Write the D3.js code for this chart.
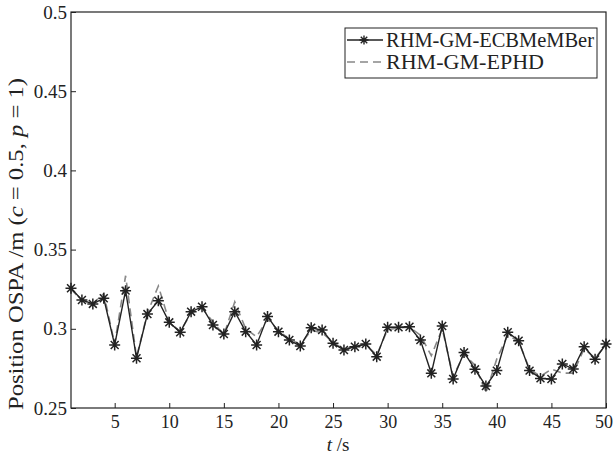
<!DOCTYPE html>
<html><head><meta charset="utf-8">
<script src="https://cdn.jsdelivr.net/npm/d3@7"></script>
<style>
body{margin:0;background:#fff;}
svg{display:block;font-family:"Liberation Serif","Times New Roman",serif;}
</style></head>
<body><svg id="c" width="614" height="455"></svg>
<script>
const steps = d3.range(1, 51);
const ecbmember = [0.3256,0.3182,0.3157,0.3193,0.2898,0.3241,0.2814,0.3093,0.3177,0.3041,
  0.2978,0.3108,0.3139,0.3024,0.2967,0.3108,0.2982,0.2898,0.3077,0.2982,
  0.2929,0.2891,0.3007,0.2992,0.2908,0.2866,0.2887,0.2904,0.2824,0.3009,
  0.3009,0.3013,0.2929,0.2719,0.3018,0.2683,0.2851,0.2744,0.2639,0.2736,
  0.2978,0.2925,0.2736,0.2687,0.2683,0.2778,0.2746,0.2887,0.2807,0.2904];
const ephd = [0.3250,0.3178,0.3160,0.3222,0.2905,0.3335,0.2820,0.3100,0.3270,0.3045,
  0.2982,0.3100,0.3130,0.3045,0.2960,0.3170,0.3000,0.2950,0.3060,0.2990,
  0.2935,0.2900,0.2990,0.2975,0.2915,0.2870,0.2890,0.2900,0.2835,0.2995,
  0.3005,0.3010,0.2960,0.2830,0.3000,0.2700,0.2840,0.2770,0.2595,0.2810,
  0.2960,0.2920,0.2745,0.2700,0.2745,0.2720,0.2720,0.2875,0.2815,0.2900];
const xTicks = [5,10,15,20,25,30,35,40,45,50];
const yTicks = [0.25,0.3,0.35,0.4,0.45,0.5];
const yTickLabels = ["0.25","0.3","0.35","0.4","0.45","0.5"];
const seriesNames = ["RHM-GM-ECBMeMBer","RHM-GM-EPHD"];
const legendWidths = [208,158];

const svg = d3.select("#c");
const L=71, R=606, T=12, B=408;
const x = d3.scaleLinear().domain([1,50]).range([L,R]);
const y = d3.scaleLinear().domain([0.25,0.5]).range([B,T]);

// axes
const xAxis = d3.axisBottom(x).tickValues(xTicks).tickSizeInner(-5).tickSizeOuter(0).tickPadding(7);
const gx = svg.append("g").attr("transform",`translate(0,${B})`).call(xAxis);
const yAxis = d3.axisLeft(y).tickValues(yTicks).tickFormat((d,i)=>yTickLabels[i]).tickSizeInner(-5).tickSizeOuter(0).tickPadding(4);
const gy = svg.append("g").attr("transform",`translate(${L},0)`).call(yAxis);
[gx,gy].forEach(g=>{
  g.select(".domain").remove();
  g.selectAll("line").attr("stroke","#222").attr("stroke-width",1);
  g.selectAll("text").attr("fill","#222").attr("font-family","Liberation Serif");
});
gy.selectAll("text").attr("font-size",19);
gx.selectAll("text").attr("font-size",18);
gx.selectAll(".tick").filter(d=>d===50).select("text").attr("dx",-2.5);

// box
svg.append("rect").attr("x",L).attr("y",T).attr("width",R-L).attr("height",B-T)
  .attr("fill","none").attr("stroke","#222").attr("stroke-width",1.2);

const line = d3.line().x((d,i)=>x(steps[i])).y(d=>y(d));
svg.append("path").datum(ephd).attr("d",line).attr("fill","none")
  .attr("stroke","#888").attr("stroke-width",1.6).attr("stroke-dasharray","8,5");
svg.append("path").datum(ecbmember).attr("d",line).attr("fill","none")
  .attr("stroke","#222").attr("stroke-width",1.4);

function star(r){
  const a=r*0.72;
  return `M${-r},0L${r},0M0,${-r}L0,${r}M${-a},${-a}L${a},${a}M${-a},${a}L${a},${-a}`;
}
svg.append("g").selectAll("path").data(ecbmember).join("path")
  .attr("transform",(d,i)=>`translate(${x(steps[i])},${y(d)})`)
  .attr("d",star(5.5)).attr("stroke","#222").attr("stroke-width",1.5).attr("fill","none");

// legend
const lg = svg.append("g");
lg.append("rect").attr("x",345).attr("y",28).attr("width",252).attr("height",50)
  .attr("fill","#fff").attr("stroke","#222").attr("stroke-width",1);
lg.append("line").attr("x1",347).attr("x2",383).attr("y1",40).attr("y2",40).attr("stroke","#222").attr("stroke-width",1.4);
lg.append("path").attr("transform","translate(364,40)").attr("d",star(4.5)).attr("stroke","#222").attr("stroke-width",1.4);
lg.append("line").attr("x1",347).attr("x2",383).attr("y1",62).attr("y2",62).attr("stroke","#888").attr("stroke-width",1.6).attr("stroke-dasharray","8,5");
lg.selectAll("text.l").data(seriesNames).join("text").attr("class","l")
  .attr("x",386).attr("y",(d,i)=>40+i*22).attr("dy","0.35em")
  .attr("font-size",21).attr("fill","#222")
  .attr("textLength",(d,i)=>legendWidths[i]).attr("lengthAdjust","spacingAndGlyphs")
  .text(d=>d);

// axis labels
const xl = svg.append("text").attr("x",338).attr("y",451).attr("text-anchor","middle").attr("font-size",19).attr("fill","#222");
xl.append("tspan").attr("font-style","italic").text("t");
xl.append("tspan").text(" /s");

const yl = svg.append("text").attr("transform","translate(23,244) rotate(-90)").attr("text-anchor","middle")
  .attr("font-size",21).attr("fill","#222").attr("textLength",332).attr("lengthAdjust","spacingAndGlyphs");
yl.append("tspan").text("Position OSPA /m (");
yl.append("tspan").attr("font-style","italic").text("c");
yl.append("tspan").text(" = 0.5, ");
yl.append("tspan").attr("font-style","italic").text("p");
yl.append("tspan").text(" = 1)");
</script></body></html>
